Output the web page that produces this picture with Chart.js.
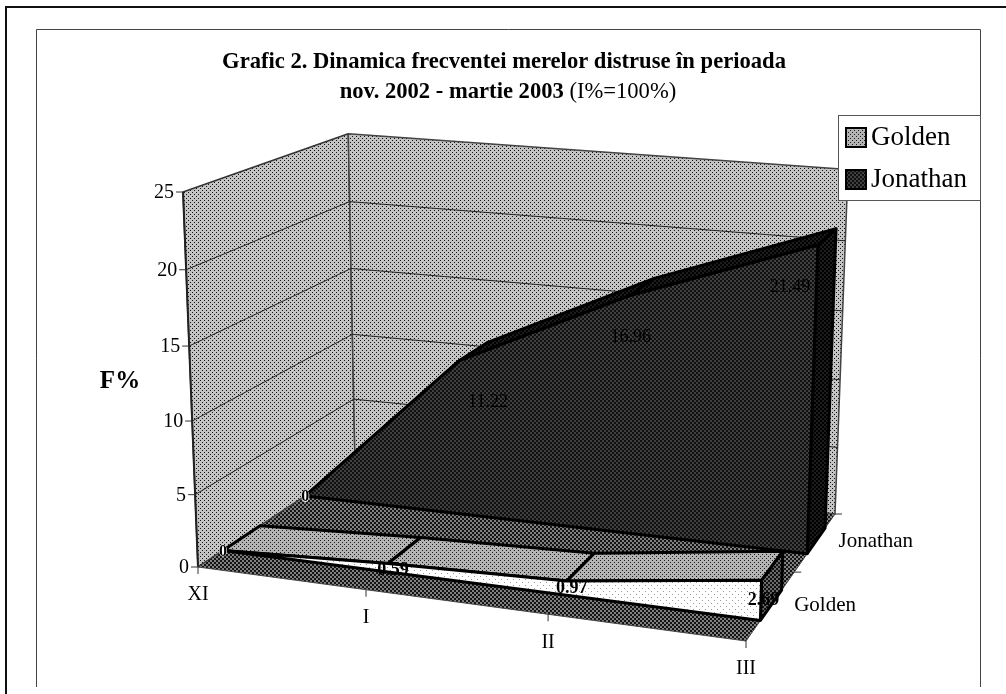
<!DOCTYPE html>
<html lang="en">
<head>
  <meta charset="UTF-8">
  <title>Grafic 2</title>
  <script src="https://cdn.jsdelivr.net/npm/chart.js"></script>
  <style>
    * { margin: 0; padding: 0; box-sizing: border-box; }
    body { background: #fff; width: 1006px; height: 694px; overflow: hidden; }
    canvas { display: block; }
  </style>
</head>
<body>
  <canvas id="chart" width="1006" height="694"></canvas>

  <script>
    // Values
    const categories = ['XI', 'I', 'II', 'III'];
    const seriesNames = ['Golden', 'Jonathan'];
    const goldenValues = [0, 0.59, 0.97, 2.69];
    const jonathanValues = [0, 11.22, 16.96, 21.49];
    const valueTicks = [0, 5, 10, 15, 20, 25];

    const SERIF = '"Liberation Serif", "Times New Roman", serif';
    const ZMAX = valueTicks[valueTicks.length - 1];
    const V_GOLD = [0.14, 0.36], V_JON = [0.65, 0.87];

    // Perspective box: floor corners front-left, front-right, back-right, back-left
    const FL = [198, 567], FR = [746, 641], BR = [835, 514], BL = [355, 463];
    const VANISH = [524, 8729];   // where the verticals meet
    const HEIGHT_K = -0.001757;

    const dx1 = FR[0] - BR[0], dx2 = BL[0] - BR[0], sx = FL[0] - FR[0] + BR[0] - BL[0];
    const dy1 = FR[1] - BR[1], dy2 = BL[1] - BR[1], sy = FL[1] - FR[1] + BR[1] - BL[1];
    const den = dx1 * dy2 - dx2 * dy1;
    const g = (sx * dy2 - dx2 * sy) / den;
    const h = (dx1 * sy - sx * dy1) / den;

    // u along the months, v into the depth, z = value
    function project(u, v, z) {
      const w = g * u + h * v + 1;
      const px = ((FR[0] - FL[0] + g * FR[0]) * u + (BL[0] - FL[0] + h * BL[0]) * v + FL[0]) / w;
      const py = ((FR[1] - FL[1] + g * FR[1]) * u + (BL[1] - FL[1] + h * BL[1]) * v + FL[1]) / w;
      const zeta = z * HEIGHT_K / w;
      const f = zeta / (1 + zeta) * (1 + 0.015 * v - 0.057 * u);
      return { x: px + (VANISH[0] - px) * f, y: py + (VANISH[1] - py) * f };
    }
    const uAt = i => i / (categories.length - 1);

    // Scanned halftone look: small dot tiles
    function dots(base, dot, size, d) {
      const c = document.createElement('canvas');
      c.width = c.height = size;
      const x = c.getContext('2d');
      x.fillStyle = base;
      x.fillRect(0, 0, size, size);
      x.fillStyle = dot;
      x.fillRect(0, 0, d, d);
      x.fillRect(size / 2, size / 2, d, d);
      return x.createPattern(c, 'repeat');
    }
    const ctx = document.getElementById('chart').getContext('2d');
    const wallFill = dots('#c4c4c4', '#111', 4, 1);
    const floorFill = dots('#808080', '#141414', 4, 2);
    const jonFill = dots('#404040', '#101010', 4, 2);
    const jonSide = dots('#1c1c1c', '#000', 4, 2);
    const goldTop = dots('#b4b4b4', '#1c1c1c', 4, 1);
    const goldFront = dots('#fff', '#999', 6, 1);
    const goldSide = dots('#6a6a6a', '#111', 4, 2);

    const datasets = [];
    function face(points, fill, line, width) {
      datasets.push({
        data: fill ? points.concat([points[0]]) : points,
        backgroundColor: fill || 'transparent',
        borderColor: line || 'transparent',
        borderWidth: width || 0,
        fill: fill ? 'shape' : false,
        pointRadius: 0,
        tension: 0,
        borderJoinStyle: 'round'
      });
    }

    // walls and floor
    face([project(0, 0, 0), project(0, 1, 0), project(0, 1, ZMAX), project(0, 0, ZMAX)], wallFill, '#333', 1.5);
    face([project(0, 1, 0), project(1, 1, 0), project(1, 1, ZMAX), project(0, 1, ZMAX)], wallFill, '#444', 1.5);
    face([project(0, 0, 0), project(0, 0, ZMAX)], null, '#222', 2);
    valueTicks.forEach(t => {
      if (t === 0 || t === ZMAX) return;
      face([project(0, 0, t), project(0, 1, t), project(1, 1, t)], null, '#222', 1);
    });
    face([project(0, 0, 0), project(1, 0, 0), project(1, 1, 0), project(0, 1, 0)], floorFill, '#444', 1);

    // one 3D area: top band, right side, front face
    function area3d(values, vFront, vBack, topFill, sideFill, frontFill, lineW) {
      const n = values.length;
      const front = values.map((val, i) => project(uAt(i), vFront, val));
      const back = values.map((val, i) => project(uAt(i), vBack, val));
      face([project(uAt(0), vBack, 0), project(1, vBack, 0), project(1, vBack, values[n - 1])].concat(back.slice(0, n - 1).reverse()), sideFill);
      for (let i = 0; i < n - 1; i++) {
        face([front[i], front[i + 1], back[i + 1], back[i]], topFill, '#000', lineW);
      }
      face([project(1, vFront, 0), project(1, vBack, 0), back[n - 1], front[n - 1]], sideFill, '#000', lineW);
      face(front.concat([project(1, vFront, 0), project(0, vFront, 0)]), frontFill, '#000', lineW);
    }
    area3d(jonathanValues, V_JON[0], V_JON[1], jonSide, jonSide, jonFill, 3);
    area3d(goldenValues, V_GOLD[0], V_GOLD[1], goldTop, goldSide, goldFront, 3);

    // Chart.js paints the first dataset on top, so order is reversed
    datasets.forEach((d, i) => { d.order = datasets.length - i; });

    function text(c, str, x, y, font, align, color) {
      c.font = font;
      c.textAlign = align || 'center';
      c.textBaseline = 'middle';
      c.fillStyle = color || '#000';
      c.fillText(str, x, y);
    }

    function zeroLabel(c, p) {
      c.fillStyle = '#fff';
      c.beginPath();
      c.ellipse(p.x, p.y, 4, 6, 0, 0, Math.PI * 2);
      c.fill();
      text(c, '0', p.x, p.y + 1, 'bold 16px ' + SERIF);
    }

    const labelsPlugin = {
      id: 'labelsPlugin',
      afterDatasetsDraw(chart) {
        const c = chart.ctx;
        c.save();

        // page frames
        c.strokeStyle = '#111';
        c.lineWidth = 2;
        c.beginPath();
        c.moveTo(6, 694); c.lineTo(6, 7); c.lineTo(1006, 7);
        c.stroke();
        c.strokeStyle = '#444';
        c.lineWidth = 1;
        c.beginPath();
        c.moveTo(36.5, 687); c.lineTo(36.5, 29.5); c.lineTo(980.5, 29.5); c.lineTo(980.5, 687);
        c.stroke();

        // title
        text(c, 'Grafic 2. Dinamica frecventei merelor distruse în perioada', 504, 62, 'bold 22.6px ' + SERIF);
        const bold = 'nov. 2002 - martie 2003', rest = ' (I%=100%)';
        c.font = 'bold 22.6px ' + SERIF;
        const wb = c.measureText(bold).width;
        c.font = '22.6px ' + SERIF;
        const wr = c.measureText(rest).width;
        const x0 = 508 - (wb + wr) / 2;
        text(c, bold, x0, 92, 'bold 22.6px ' + SERIF, 'left');
        text(c, rest, x0 + wb, 92, '22.6px ' + SERIF, 'left');

        // axis title
        text(c, 'F%', 120, 382, 'bold 25px ' + SERIF);

        // value axis
        c.strokeStyle = '#333';
        c.lineWidth = 1;
        valueTicks.forEach(t => {
          const p = project(0, 0, t);
          c.beginPath();
          c.moveTo(p.x - 7, p.y); c.lineTo(p.x, p.y);
          c.stroke();
          text(c, String(t), p.x - 9, p.y + 1, '20px ' + SERIF, 'right');
        });

        // month axis
        categories.forEach((name, i) => {
          const p = project(uAt(i), 0, 0);
          c.beginPath();
          c.moveTo(p.x, p.y); c.lineTo(p.x, p.y + 7);
          c.stroke();
          text(c, name, p.x, p.y + 28, '20px ' + SERIF);
        });

        // depth axis
        [0.5, 1].forEach(v => {
          const p = project(1, v, 0);
          c.beginPath();
          c.moveTo(p.x, p.y); c.lineTo(p.x + 7, p.y);
          c.stroke();
        });
        [0.25, 0.75].forEach((v, i) => {
          const p = project(1, v, 0);
          text(c, seriesNames[i], p.x + 23, p.y, '21px ' + SERIF, 'left');
        });

        // value labels
        jonathanValues.forEach((val, i) => {
          const u = uAt(i);
          const p = project(u, V_JON[0], val);
          if (i === 0) { zeroLabel(c, p); return; }
          text(c, String(val), p.x + 57 - 85 * u, p.y + 42, '18px ' + SERIF);
        });
        goldenValues.forEach((val, i) => {
          const u = uAt(i);
          const p = project(u, V_GOLD[0], val);
          if (i === 0) { zeroLabel(c, p); return; }
          const off = i === 3 ? [2, 20] : [5, 7];
          text(c, String(val), p.x + off[0], p.y + off[1], 'bold 18px ' + SERIF);
        });

        // legend
        c.fillStyle = '#fff';
        c.fillRect(838, 115, 142, 85);
        c.strokeStyle = '#555';
        c.strokeRect(838.5, 115.5, 142, 85);
        [[128, goldTop], [170, jonFill]].forEach((row, i) => {
          c.fillStyle = row[1];
          c.fillRect(846, row[0], 20, 19);
          c.strokeStyle = '#000';
          c.lineWidth = 2;
          c.strokeRect(846, row[0], 20, 19);
          text(c, seriesNames[i], 871, row[0] + 10, '27px ' + SERIF, 'left');
        });
        c.restore();
      }
    };

    new Chart(ctx, {
      type: 'line',
      data: { datasets },
      options: {
        responsive: false,
        animation: false,
        parsing: false,
        normalized: false,
        layout: { padding: 0 },
        scales: {
          x: { type: 'linear', min: 0, max: 1006, display: false },
          y: { type: 'linear', min: 0, max: 694, reverse: true, display: false }
        },
        plugins: { legend: { display: false }, tooltip: { enabled: false }, title: { display: false } }
      },
      plugins: [labelsPlugin]
    });
  </script>
</body>
</html>
